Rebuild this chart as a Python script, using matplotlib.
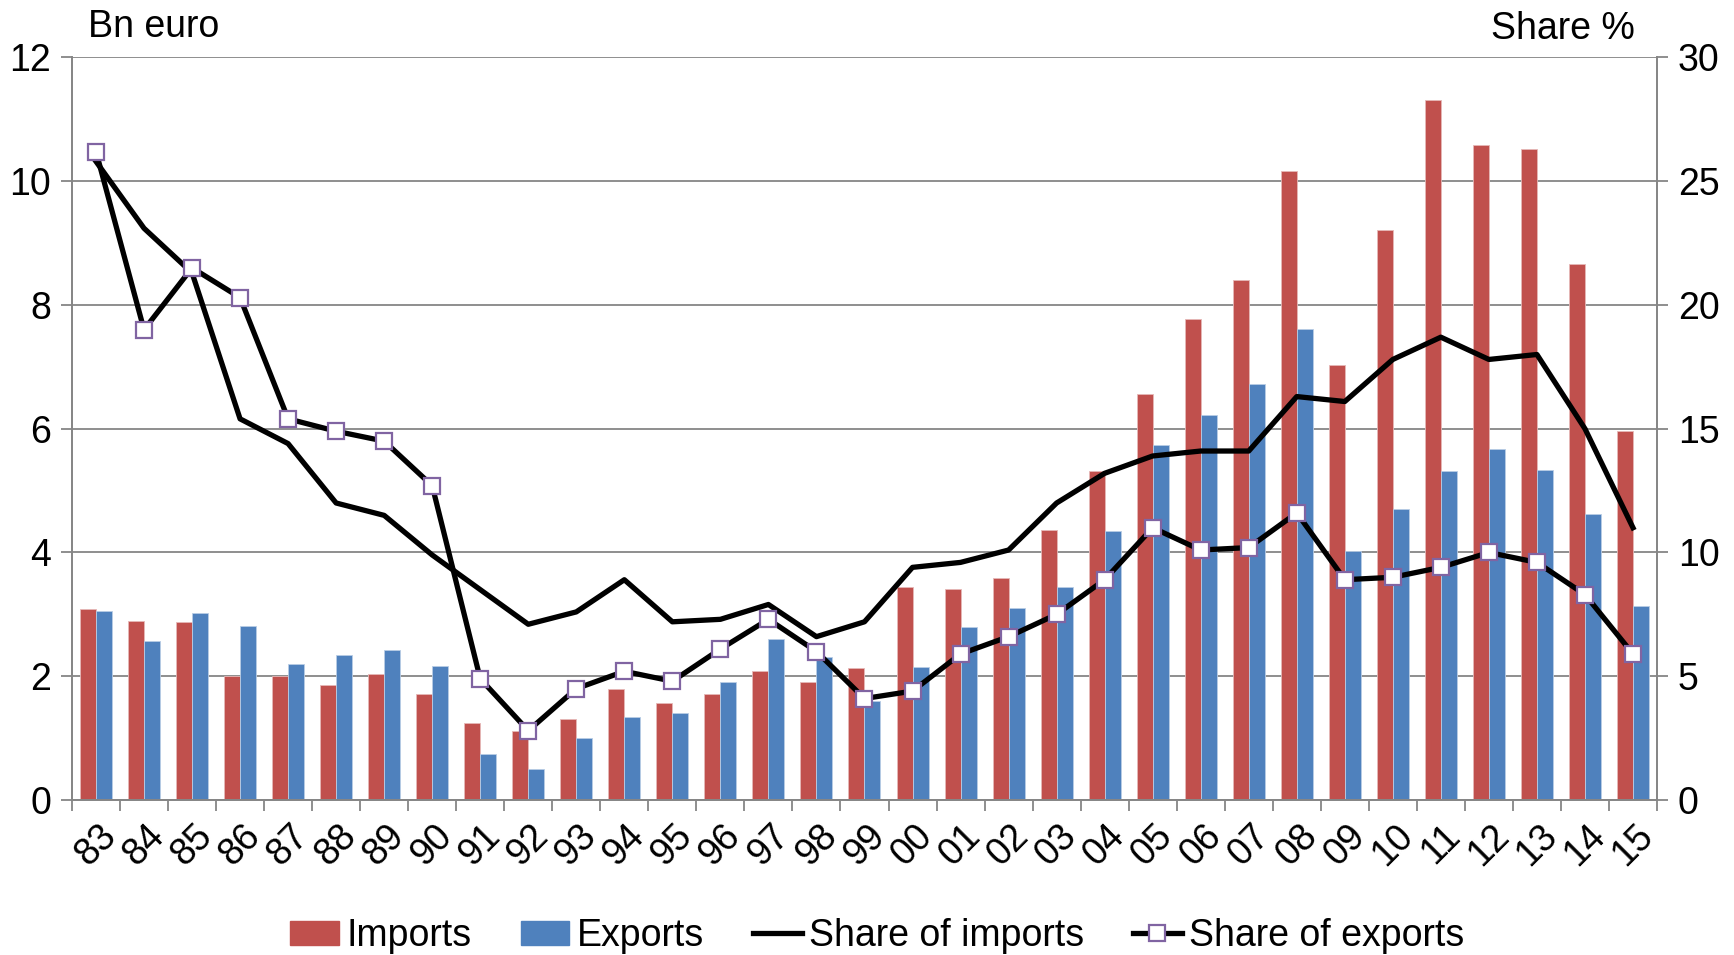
import numpy as np
import matplotlib.pyplot as plt
from matplotlib.lines import Line2D
from matplotlib.patches import Patch

plt.rcParams['font.family'] = ['Liberation Sans', 'DejaVu Sans']

years = ['83', '84', '85', '86', '87', '88', '89', '90', '91', '92', '93', '94',
         '95', '96', '97', '98', '99', '00', '01', '02', '03', '04', '05', '06',
         '07', '08', '09', '10', '11', '12', '13', '14', '15']

# Bn euro
imports = [3.09, 2.89, 2.88, 2.00, 2.00, 1.86, 2.03, 1.71, 1.25, 1.11,
           1.31, 1.79, 1.56, 1.72, 2.09, 1.90, 2.14,
           3.45, 3.41, 3.59, 4.36, 5.31, 6.56, 7.77, 8.40, 10.17, 7.03,
           9.22, 11.32, 10.58, 10.52, 8.66, 5.96]
exports = [3.06, 2.57, 3.03, 2.81, 2.20, 2.34, 2.43, 2.16, 0.75, 0.50,
           1.01, 1.34, 1.41, 1.90, 2.61, 2.31, 1.60,
           2.15, 2.79, 3.11, 3.45, 4.34, 5.73, 6.22, 6.72, 7.61, 4.02,
           4.71, 5.32, 5.68, 5.34, 4.62, 3.14]

# share %
share_imports = [25.8, 23.1, 21.3, 15.4, 14.4, 12.0, 11.5, 9.9, 8.5, 7.1,
                 7.6, 8.9, 7.2, 7.3, 7.9, 6.6, 7.2,
                 9.4, 9.6, 10.1, 12.0, 13.2, 13.9, 14.1, 14.1, 16.3, 16.1,
                 17.8, 18.7, 17.8, 18.0, 15.0, 11.0]
share_exports = [26.2, 19.0, 21.5, 20.3, 15.4, 14.9, 14.5, 12.7, 4.9, 2.8,
                 4.5, 5.2, 4.8, 6.1, 7.3, 6.0, 4.1,
                 4.4, 5.9, 6.6, 7.5, 8.9, 11.0, 10.1, 10.2, 11.6, 8.9,
                 9.0, 9.4, 10.0, 9.6, 8.3, 5.9]

red = '#C0504D'
blue = '#4F81BD'
purple = '#8064A2'
grey = '#868686'
fs = 27
lw = 3.8

fig = plt.figure(figsize=(17.34, 9.55), dpi=100)
ax = fig.add_axes([0.0415, 0.1623, 0.9141, 0.7775])

x = np.arange(len(years))
w = 1 / 3
ax.bar(x - w / 2, imports, w, color=red, edgecolor='#E6B8B7', linewidth=0.6, zorder=2)
ax.bar(x + w / 2, exports, w, color=blue, edgecolor='#B9CDE5', linewidth=0.6, zorder=2)

ax.set_xlim(-0.5, len(years) - 0.5)
ax.set_ylim(0, 12)
ax.set_yticks(range(0, 13, 2))
ax.yaxis.grid(True, color=grey, linewidth=1.3)
ax.set_axisbelow(True)

ax.set_xticks(x)
ax.set_xticklabels(years, rotation=45, ha='center', va='top')
ax.set_xticks(np.arange(-0.5, len(years)), minor=True)
ax.tick_params(axis='x', which='major', length=0, pad=13, labelsize=fs)
ax.tick_params(axis='x', which='minor', length=8, width=1.3, color=grey, direction='out')
ax.tick_params(axis='y', length=8, width=1.3, color=grey, labelsize=fs, pad=7)

for side in ['left', 'right', 'bottom']:
    ax.spines[side].set_color(grey)
    ax.spines[side].set_linewidth(1.3)
ax.spines['top'].set_visible(False)

ax2 = ax.twinx()
ax2.set_ylim(0, 30)
ax2.set_yticks(range(0, 31, 5))
ax2.tick_params(axis='y', length=8, width=1.3, color=grey, labelsize=fs, pad=7)
for side in ['left', 'right', 'bottom']:
    ax2.spines[side].set_color(grey)
    ax2.spines[side].set_linewidth(1.3)
ax2.spines['top'].set_visible(False)

ax2.plot(x, share_imports, color='black', linewidth=lw, zorder=3)
ax2.plot(x, share_exports, color='black', linewidth=lw, marker='s',
         markersize=11, markerfacecolor='white', markeredgecolor=purple,
         markeredgewidth=1.6, zorder=4)

fig.text(0.051, 0.972, 'Bn euro', fontsize=fs, ha='left', va='center')
fig.text(0.943, 0.970, 'Share %', fontsize=fs, ha='right', va='center')

handles = [
    Patch(color=red),
    Patch(color=blue),
    Line2D([], [], color='black', linewidth=lw),
    Line2D([], [], color='black', linewidth=lw, marker='s', markersize=11,
           markerfacecolor='white', markeredgecolor=purple, markeredgewidth=1.6),
]
labels = ['Imports', 'Exports', 'Share of imports', 'Share of exports']
fig.legend(handles, labels, loc='center', bbox_to_anchor=(0.506, 0.02), ncol=4,
           frameon=False, fontsize=fs, handlelength=1.3, handleheight=0.6,
           handletextpad=0.2, columnspacing=1.3)

fig.savefig('out.png', dpi=100)
